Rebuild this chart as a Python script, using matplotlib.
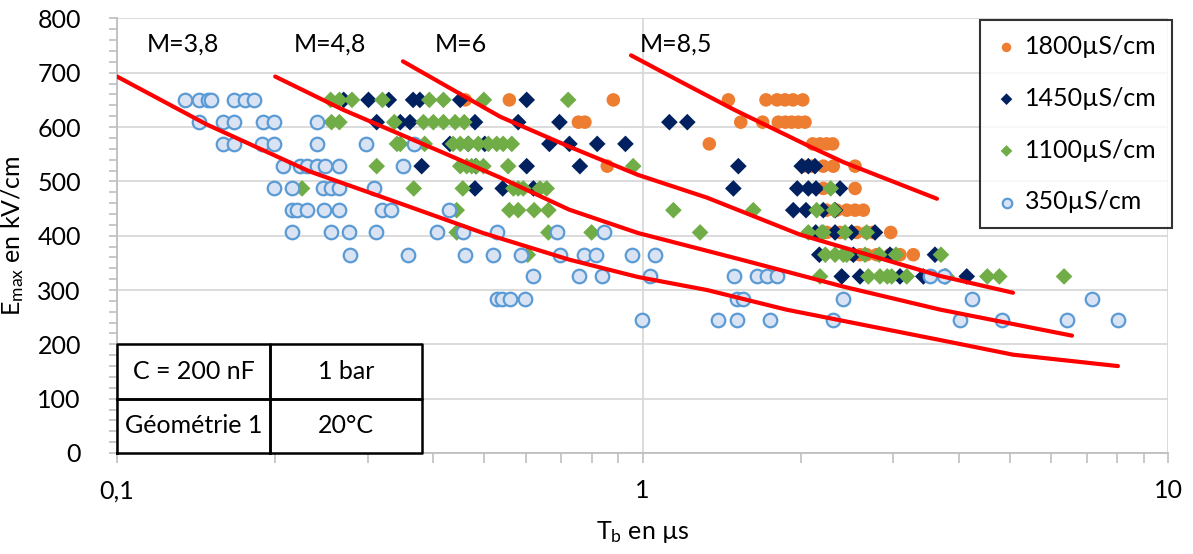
import numpy as np
import matplotlib
matplotlib.use('Agg')
import matplotlib.pyplot as plt
from matplotlib.ticker import FixedLocator, FixedFormatter, NullFormatter, MultipleLocator

plt.rcParams['font.family'] = ['Lato', 'DejaVu Sans']
plt.rcParams['mathtext.fontset'] = 'custom'
plt.rcParams['mathtext.rm'] = 'Lato'
plt.rcParams['mathtext.it'] = 'Lato:italic'

# field levels (kV/cm) shared by all series, one row per level
e_levels = [650, 609, 569, 528, 487, 447, 406, 365, 325, 284, 244]

# breakdown time T_b (us) per field level, for each conductivity
t_1800 = [
    [0.460, 0.558, 0.880, 1.457, 1.718, 1.803, 1.867, 1.934, 2.018],
    [0.755, 0.777, 1.538, 1.693, 1.813, 1.870, 1.922, 1.979, 2.038],
    [1.340, 2.108, 2.177, 2.241, 2.301],
    [0.857, 2.024, 2.101, 2.208, 2.307, 2.538],
    [2.208, 2.538],
    [2.241, 2.342, 2.447, 2.538, 2.632],
    [2.241, 2.376, 2.557, 2.671, 2.743, 2.967],
    [2.519, 2.594, 2.671, 2.790, 2.958, 3.090, 3.276],
    [], [], [],
]
t_1450 = [
    [0.270, 0.301, 0.329, 0.366, 0.377, 0.450, 0.602],
    [0.312, 0.346, 0.361, 0.480, 0.580, 0.695, 1.125, 1.217],
    [0.430, 0.466, 0.501, 0.665, 0.726, 0.820, 0.928],
    [0.380, 0.482, 0.602, 0.760, 1.522, 2.009, 2.068, 2.129],
    [0.480, 0.542, 0.620, 1.489, 1.970, 2.068, 2.139, 2.376],
    [1.936, 2.047, 2.208, 2.325],
    [2.136, 2.325, 2.501, 2.770],
    [2.170, 2.519, 2.958, 3.602],
    [2.394, 2.594, 3.090, 3.423, 3.763, 4.140],
    [], [],
]
t_1100 = [
    [0.255, 0.265, 0.280, 0.320, 0.393, 0.418, 0.499, 0.722],
    [0.256, 0.265, 0.337, 0.383, 0.400, 0.418, 0.440, 0.458],
    [0.341, 0.346, 0.385, 0.436, 0.450, 0.466, 0.487, 0.509, 0.528, 0.543, 0.564],
    [0.312, 0.450, 0.463, 0.473, 0.483, 0.498, 0.555, 0.960],
    [0.225, 0.367, 0.455, 0.568, 0.580, 0.593, 0.638, 0.657, 2.281],
    [0.443, 0.558, 0.580, 0.622, 0.662, 1.145, 1.625, 2.145, 2.315],
    [0.443, 0.662, 0.800, 1.287, 2.068, 2.193, 2.208, 2.429, 2.671],
    [0.605, 2.228, 2.325, 2.411, 2.447, 2.651, 2.822, 3.037, 3.698],
    [2.177, 2.690, 2.831, 2.923, 2.980, 3.183, 3.791, 4.531, 4.776, 6.341],
    [], [],
]
t_350 = [
    [0.135, 0.143, 0.149, 0.151, 0.167, 0.175, 0.182],
    [0.143, 0.159, 0.167, 0.190, 0.199, 0.240],
    [0.159, 0.167, 0.189, 0.199, 0.240, 0.298, 0.367],
    [0.207, 0.223, 0.230, 0.240, 0.249, 0.264, 0.350],
    [0.199, 0.215, 0.247, 0.255, 0.264, 0.308],
    [0.215, 0.220, 0.230, 0.248, 0.264, 0.319, 0.332, 0.428],
    [0.215, 0.255, 0.276, 0.311, 0.407, 0.455, 0.528, 0.687, 0.845],
    [0.278, 0.358, 0.460, 0.519, 0.587, 0.697, 0.774, 0.816, 0.954, 1.056],
    [0.618, 0.757, 0.836, 1.033, 1.493, 1.650, 1.722, 1.800, 3.525, 3.747],
    [0.528, 0.540, 0.560, 0.598, 1.511, 1.551, 2.404, 4.237, 7.178],
    [0.997, 1.394, 1.515, 1.748, 2.307, 4.020, 4.826, 6.417, 8.043],
]

# red model curves
m38_t = [0.100, 0.148, 0.233, 0.361, 0.497, 0.725, 0.980, 1.327, 1.876, 3.682, 5.070, 8.030]
m38_e = [693, 605, 518, 453, 405, 356, 324, 300, 264, 208, 181, 160]
m48_t = [0.200, 0.269, 0.417, 0.536, 0.725, 0.980, 1.540, 2.417, 3.682, 6.567]
m48_e = [693, 632, 553, 507, 448, 405, 356, 306, 264, 216]
m6_t = [0.350, 0.536, 0.725, 0.980, 1.327, 1.994, 2.818, 3.682, 5.070]
m6_e = [721, 619, 564, 512, 470, 402, 359, 326, 295]
m85_t = [0.951, 1.179, 1.493, 2.083, 2.417, 3.634]
m85_e = [732, 684, 632, 564, 535, 468]
curve_labels = ['M=3,8', 'M=4,8', 'M=6', 'M=8,5']

series_names = ['1800µS/cm', '1450µS/cm', '1100µS/cm', '350µS/cm']


def flatten(rows):
    xs, ys = [], []
    for e, row in zip(e_levels, rows):
        xs += row
        ys += [e] * len(row)
    return xs, ys


fig = plt.figure(figsize=(11.93, 5.54), dpi=100)
ax = fig.add_axes([117 / 1193, 101 / 554, 1051 / 1193, 434.6 / 554])

styles = [
    dict(marker='o', s=95, color='#ED7D31', edgecolors='none'),
    dict(marker='D', s=72, color='#002060', edgecolors='none'),
    dict(marker='D', s=72, color='#70AD47', edgecolors='none'),
    dict(marker='o', s=95, facecolors='#DAE3F3', edgecolors='#5B9BD5', linewidths=1.6),
]
for rows, name, st in zip([t_1800, t_1450, t_1100, t_350], series_names, styles):
    xs, ys = flatten(rows)
    ax.scatter(xs, ys, label=name, zorder=3, **st)

for t, e in [(m38_t, m38_e), (m48_t, m48_e), (m6_t, m6_e), (m85_t, m85_e)]:
    ax.plot(t, e, color='#FF0000', lw=3, zorder=4, solid_capstyle='round')

for lab, xpos in zip(curve_labels, [0.1335, 0.254, 0.452, 1.16]):
    ax.text(xpos, 752, lab, ha='center', va='center', fontsize=18)

ax.set_xscale('log')
ax.set_xlim(0.1, 10)
ax.set_ylim(0, 800)
ax.xaxis.set_major_locator(FixedLocator([0.1, 1, 10]))
ax.xaxis.set_major_formatter(FixedFormatter(['0,1', '1', '10']))
ax.xaxis.set_minor_locator(FixedLocator([k * 10.0 ** p for p in (-1, 0) for k in range(2, 10)]))
ax.xaxis.set_minor_formatter(NullFormatter())
ax.yaxis.set_major_locator(MultipleLocator(100))
ax.yaxis.set_minor_locator(MultipleLocator(20))

ax.grid(which='major', color='#D9D9D9', lw=1.3)
ax.set_axisbelow(True)
for s in ['top', 'right']:
    ax.spines[s].set_visible(False)
for s in ['left', 'bottom']:
    ax.spines[s].set_color('#BFBFBF')
    ax.spines[s].set_linewidth(1.3)
ax.tick_params(which='both', color='#BFBFBF', width=1.2, labelsize=18, direction='out')
ax.tick_params(axis='x', which='both', length=7, pad=12)
ax.tick_params(axis='y', which='both', length=6, pad=20)

ax.set_xlabel('T$_{\\mathrm{b}}$ en µs', fontsize=18, labelpad=12)
ax.set_ylabel('E$_{\\mathrm{max}}$ en kV/cm', fontsize=18, labelpad=8)

# parameter table in the lower left corner
x0, x1, x2 = 0.1, 0.1955, 0.381
cells = [('C = 200 nF', x0, x1, 100), ('1 bar', x1, x2, 100),
         ('Géométrie 1', x0, x1, 0), ('20°C', x1, x2, 0)]
for txt, a, b, y in cells:
    ax.fill_between([a, b], y, y + 100, color='white', zorder=5)
    ax.plot([a, b, b, a, a], [y, y, y + 100, y + 100, y], color='black', lw=1.8, zorder=6, clip_on=False)
    ax.text(np.sqrt(a * b), y + 50, txt, ha='center', va='center', fontsize=18, zorder=7)

leg = ax.legend(loc='upper right', bbox_to_anchor=(1172 / 1193, 534 / 554),
                bbox_transform=fig.transFigure, borderaxespad=0, fontsize=18, frameon=True,
                fancybox=False, edgecolor='black', labelspacing=1.15, handletextpad=0.3,
                handlelength=0.9, borderpad=0.6, markerscale=0.7, scatterpoints=1)
leg.get_frame().set_linewidth(1.5)
leg.set_zorder(10)

fig.savefig('out.png', dpi=100)
